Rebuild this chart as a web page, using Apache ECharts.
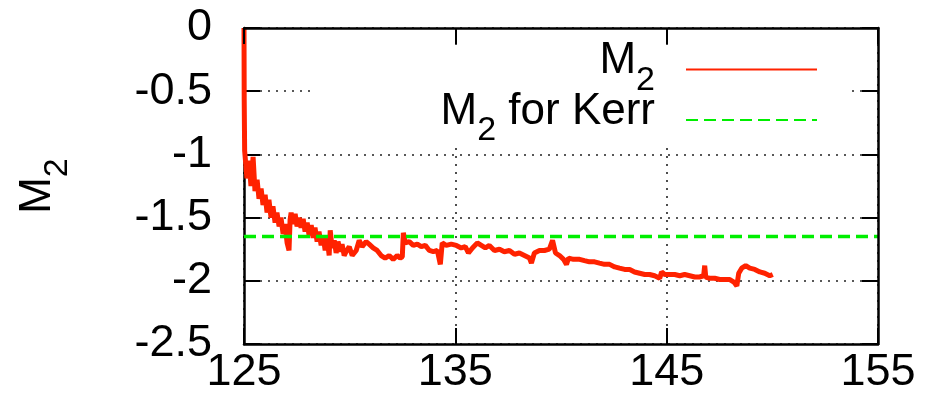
<!DOCTYPE html>
<html><head><meta charset="utf-8">
<script src="https://cdn.jsdelivr.net/npm/echarts@6/dist/echarts.min.js"></script>
<style>html,body{margin:0;padding:0;background:#fff}#c{width:929px;height:413px}</style>
</head><body><div id="c"></div>
<script>
const xTickLabels = [125, 135, 145, 155];
const yTickLabels = [0, -0.5, -1, -1.5, -2, -2.5];

const m2X = [125.0,125.01,125.03,125.05,125.14,125.24,125.33,125.43,125.52,125.62,125.71,125.81,125.90,126.00,126.09,126.18,126.28,126.37,126.47,126.56,126.66,126.75,126.85,126.94,127.04,127.13,127.18,127.23,127.32,127.42,127.51,127.61,127.70,127.80,127.89,127.99,128.08,128.18,128.27,128.36,128.46,128.55,128.65,128.74,128.84,128.93,129.03,129.08,129.17,129.27,129.36,129.45,129.55,129.64,129.74,129.83,129.98,130.12,130.31,130.45,130.59,130.78,130.92,131.11,131.30,131.49,131.68,131.87,132.06,132.25,132.39,132.49,132.54,132.63,132.82,133.01,133.20,133.39,133.58,133.77,133.96,134.15,134.29,134.38,134.57,134.81,135.05,135.28,135.47,135.62,135.81,136.04,136.23,136.42,136.61,136.85,137.09,137.32,137.56,137.80,138.03,138.27,138.51,138.60,138.74,138.98,139.22,139.45,139.60,139.74,139.93,140.12,140.26,140.36,140.59,140.88,141.11,141.35,141.59,141.82,142.06,142.30,142.54,142.77,143.01,143.25,143.48,143.72,143.96,144.19,144.43,144.67,144.76,144.91,145.14,145.38,145.62,145.85,146.09,146.33,146.56,146.75,146.80,146.85,147.04,147.27,147.51,147.75,147.99,148.18,148.32,148.41,148.55,148.74,148.93,149.17,149.41,149.64,149.88,150.02];
const m2Y = [0.0,-0.57,-0.97,-0.98,-1.19,-1.05,-1.25,-1.02,-1.29,-1.20,-1.35,-1.27,-1.40,-1.32,-1.46,-1.36,-1.50,-1.41,-1.54,-1.46,-1.57,-1.50,-1.63,-1.55,-1.70,-1.76,-1.52,-1.46,-1.55,-1.47,-1.57,-1.50,-1.58,-1.51,-1.61,-1.54,-1.64,-1.56,-1.66,-1.58,-1.69,-1.61,-1.72,-1.64,-1.76,-1.66,-1.80,-1.60,-1.74,-1.68,-1.78,-1.69,-1.77,-1.71,-1.80,-1.77,-1.73,-1.80,-1.76,-1.68,-1.73,-1.69,-1.71,-1.74,-1.76,-1.80,-1.82,-1.80,-1.83,-1.80,-1.82,-1.81,-1.62,-1.70,-1.69,-1.72,-1.71,-1.73,-1.72,-1.76,-1.77,-1.76,-1.87,-1.70,-1.72,-1.71,-1.72,-1.74,-1.73,-1.78,-1.74,-1.70,-1.72,-1.74,-1.72,-1.76,-1.75,-1.77,-1.76,-1.79,-1.78,-1.80,-1.82,-1.86,-1.78,-1.76,-1.76,-1.75,-1.68,-1.78,-1.80,-1.83,-1.87,-1.82,-1.83,-1.83,-1.84,-1.85,-1.85,-1.86,-1.87,-1.87,-1.89,-1.90,-1.91,-1.91,-1.93,-1.94,-1.95,-1.95,-1.96,-1.98,-1.93,-1.95,-1.95,-1.95,-1.96,-1.95,-1.96,-1.97,-1.97,-1.96,-1.88,-1.97,-1.98,-1.98,-1.99,-1.99,-1.99,-2.01,-2.04,-1.94,-1.90,-1.88,-1.90,-1.91,-1.93,-1.94,-1.96,-1.95];

const kerrX = [125, 155];
const kerrY = [-1.65, -1.65];

const seriesNames = ['M2', 'M2 for Kerr'];
const legendLabels = {'M2': '{m|M}{s|2}', 'M2 for Kerr': '{m|M}{s|2}{m| for Kerr}'};

const FONT = '"Liberation Sans", Arial, Helvetica, sans-serif';
const chart = echarts.init(document.getElementById('c'), null, {renderer: 'canvas'});

const xMin = xTickLabels[0], xMax = xTickLabels[xTickLabels.length - 1], xInt = xTickLabels[1] - xTickLabels[0];
const yMax = yTickLabels[0], yMin = yTickLabels[yTickLabels.length - 1], yInt = Math.abs(yTickLabels[1] - yTickLabels[0]);

const axisLine = {show: true, onZero: false, lineStyle: {color: '#000', width: 2.5}};
const axisTick = {show: true, inside: true, length: 16, lineStyle: {color: '#000', width: 2}};
const splitLine = {show: true, lineStyle: {color: '#222', width: 1.6, type: [2, 6]}};
const labelStyle = {fontSize: 45, color: '#000', fontFamily: FONT};
const richSub = {
  m: {fontSize: 44, fontFamily: FONT, color: '#000', padding: [0, 0, 17, 0]},
  s: {fontSize: 34, fontFamily: FONT, color: '#000', padding: [22, 0, 0, 0]}
};

const option = {
  animation: false,
  backgroundColor: '#fff',
  grid: {left: 244, right: 51, top: 28, bottom: 69, containLabel: false, outerBoundsMode: 'none'},
  graphic: {elements: [{type: 'rect', z: 1, shape: {x: 312, y: 45, width: 534, height: 102}, style: {fill: '#fff'}}]},
  xAxis: [
    {type: 'value', position: 'bottom', min: xMin, max: xMax, interval: xInt, z: 0,
      axisLine: axisLine, axisTick: axisTick, splitLine: splitLine,
      axisLabel: Object.assign({margin: 6}, labelStyle)},
    {type: 'value', position: 'top', min: xMin, max: xMax, interval: xInt, z: 3,
      axisLine: axisLine, axisTick: axisTick, splitLine: {show: false}, axisLabel: {show: false}}
  ],
  yAxis: [
    {type: 'value', position: 'left', min: yMin, max: yMax, interval: yInt, z: 0,
      axisLine: axisLine, axisTick: axisTick, splitLine: splitLine,
      axisLabel: Object.assign({margin: 32}, labelStyle),
      name: '{m|M}{s|2}', nameLocation: 'middle', nameGap: 167, nameRotate: 90,
      nameTextStyle: {rich: richSub}},
    {type: 'value', position: 'right', min: yMin, max: yMax, interval: yInt, z: 3,
      axisLine: axisLine, axisTick: axisTick, splitLine: {show: false}, axisLabel: {show: false}}
  ],
  legend: {
    orient: 'vertical', right: 111, top: 39, align: 'right', padding: 0, itemGap: -8,
    itemWidth: 131, itemHeight: 14, z: 4,
    itemStyle: {opacity: 0},
    data: seriesNames,
    formatter: n => legendLabels[n],
    textStyle: {padding: [0, 26, 0, 0], rich: richSub}
  },
  series: [
    {type: 'line', name: seriesNames[0], xAxisIndex: 0, yAxisIndex: 0, z: 2,
      data: m2X.map((x, i) => [x, m2Y[i]]), showSymbol: false, symbol: 'none',
      lineStyle: {color: '#ff2200', width: 5}, itemStyle: {color: '#ff2200'}},
    {type: 'line', name: seriesNames[1], xAxisIndex: 0, yAxisIndex: 0, z: 2,
      data: kerrX.map((x, i) => [x, kerrY[i]]), showSymbol: false, symbol: 'none',
      lineStyle: {color: '#00ee00', width: 3.5, type: [12, 6]}, itemStyle: {color: '#00ee00'}}
  ]
};
chart.setOption(option);
</script></body></html>
